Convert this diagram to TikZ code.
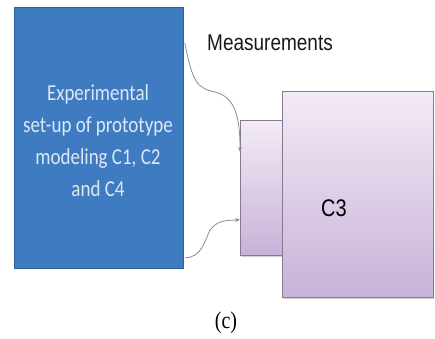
\documentclass[tikz,border=0pt]{standalone}
\usepackage{fontspec}
\setmainfont{Liberation Serif}
\newfontfamily\boxfont{Carlito}
\newfontfamily\labelfont{Liberation Sans}
\usetikzlibrary{calc,shadows,arrows.meta}
\definecolor{setupblue}{HTML}{3F7BC1}
\definecolor{setupedge}{HTML}{31619A}
\definecolor{setuptext}{HTML}{DCE8F6}
\definecolor{parttop}{HTML}{F3EBF5}
\definecolor{partbottom}{HTML}{C8B2D9}
\definecolor{partedge}{HTML}{857A8E}
\definecolor{linkgray}{HTML}{7F8EA0}
\newcommand{\tall}[1]{\scalebox{1}[1.2]{#1}}
\tikzset{
  setupbox/.style={draw=setupedge, line width=0.8pt, fill=setupblue,
    text=setuptext, inner sep=0pt, anchor=north west},
  partbox/.style={draw=partedge, line width=0.7pt, top color=parttop,
    bottom color=partbottom, inner sep=0pt, anchor=north west,
    drop shadow={shadow xshift=0.5pt, shadow yshift=-2pt, opacity=0.35}},
  link/.style={draw=linkgray, line width=0.8pt,
    -{Stealth[length=5pt, width=4pt]}},
}
\begin{document}
\begin{tikzpicture}[x=1pt, y=-1pt]
  \useasboundingbox (0,0) rectangle (435,338);

  % experimental set-up
  \node[setupbox, minimum width=169pt, minimum height=261pt] (setup) at (14,7) {};
  \node[text=setuptext, align=center] (setuptxt) at (98,142)
    {\tall{\boxfont\fontsize{19}{26.5}\selectfont
      \begin{tabular}{@{}c@{}}Experimental\\set-up of prototype\\modeling C1, C2\\and C4\end{tabular}}};

  % component C3: flange and body
  \node[partbox, minimum width=43pt, minimum height=135pt] (flange) at (240,120) {};
  \node[partbox, minimum width=151pt, minimum height=206pt] (body) at (282,91) {};
  \node (c3) at (334,208) {\tall{\labelfont\fontsize{20}{24}\selectfont C3}};

  \node[text=black!90] (meas) at (270,43) {\tall{\labelfont\fontsize{19}{23}\selectfont Measurements}};
  \node (cap) at (226,323) {\tall{\fontsize{20}{24}\selectfont (c)}};

  % measurement links
  \coordinate (s1) at ($(setup.north east)+(1,36)$);
  \coordinate (m1) at (215,92);
  \coordinate (e1) at ($(flange.north west)+(0,32)$);
  \coordinate (s2) at ($(setup.south east)+(1,-11)$);
  \coordinate (m2) at (210,230);
  \coordinate (e2) at ($(flange.south west)+(0,-36)$);
  \draw[link] (s1) .. controls +(8,40) and +(-18,-4) .. (m1)
                   .. controls +(22,5) and +(0,-30) .. (e1);
  \draw[link] (s2) .. controls +(17,0) and +(-5,10) .. (m2)
                   .. controls +(8,-10) and +(-15,1) .. (e2);
\end{tikzpicture}
\end{document}
